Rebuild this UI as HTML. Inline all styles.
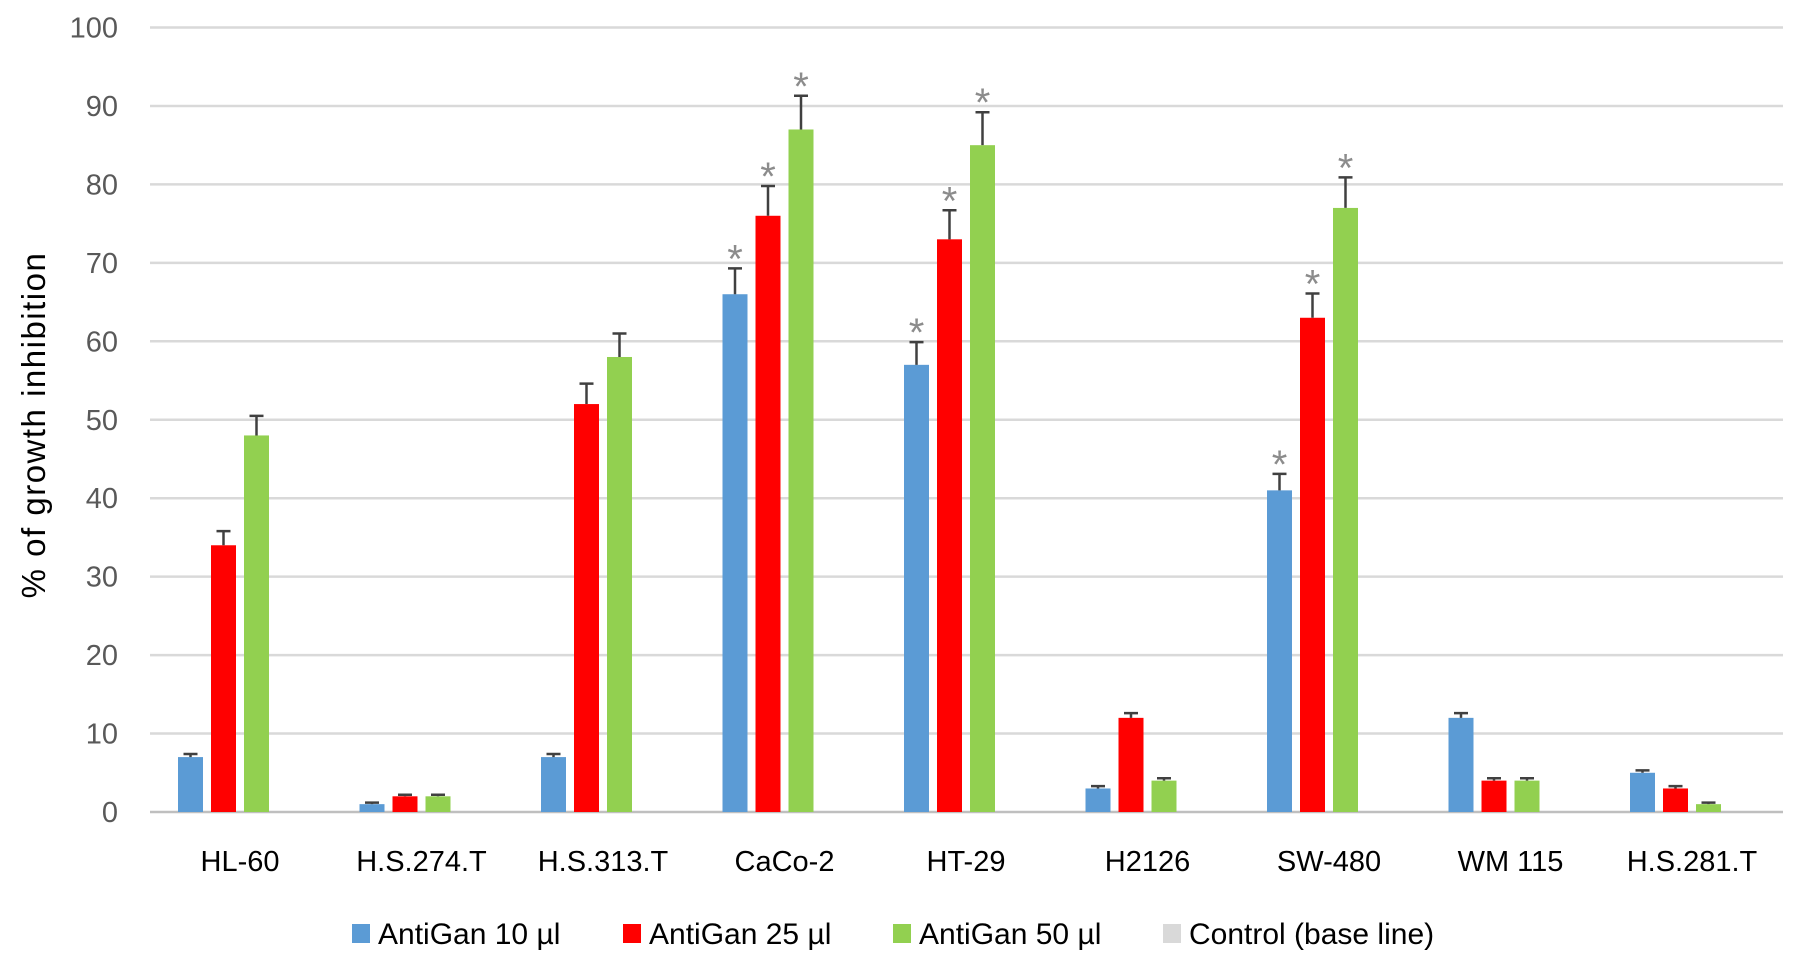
<!DOCTYPE html>
<html><head><meta charset="utf-8"><style>
body{margin:0;background:#fff;}
svg{display:block;font-family:"Liberation Sans",sans-serif;}
</style></head><body>
<svg id="chart" width="1795" height="971"></svg>
<script>
const categories=["HL-60","H.S.274.T","H.S.313.T","CaCo-2","HT-29","H2126","SW-480","WM 115","H.S.281.T"];
const s10=[7,1,7,66,57,3,41,12,5];
const s25=[34,2,52,76,73,12,63,4,3];
const s50=[48,2,58,87,85,4,77,4,1];
const e10=[0.4,0.2,0.4,3.3,2.9,0.3,2.1,0.6,0.3];
const e25=[1.8,0.2,2.6,3.8,3.7,0.6,3.1,0.3,0.3];
const e50=[2.5,0.2,3,4.3,4.2,0.3,3.9,0.3,0.2];
const sig10=[0,0,0,1,1,0,1,0,0];
const sig25=[0,0,0,1,1,0,1,0,0];
const sig50=[0,0,0,1,1,0,1,0,0];
const yTicks=[0,10,20,30,40,50,60,70,80,90,100];
const seriesNames=["AntiGan 10 µl","AntiGan 25 µl","AntiGan 50 µl","Control (base line)"];
const colors=["#5b9bd5","#ff0000","#92d050","#d9d9d9"];
const NS="http://www.w3.org/2000/svg";
const svg=document.getElementById('chart');
const y0=812,y100=27.5,xl=150,xr=1783;
const y=v=>y0-(y0-y100)*v/100;
const cx=i=>240+i*181.5;
function mk(t,a){const e=document.createElementNS(NS,t);for(const k in a)e.setAttribute(k,a[k]);svg.appendChild(e);return e;}
yTicks.forEach(t=>{
 const l=mk('line',{x1:xl,x2:xr,y1:y(t),y2:y(t),stroke:t===0?'#bfbfbf':'#d9d9d9','stroke-width':2.5});
 
 
 const tx=mk('text',{x:118,y:y(t)+10,'text-anchor':'end','font-size':29,fill:'#595959'});
 tx.textContent=t;
 
 
});
const yt=mk('text',{x:0,y:0,transform:'translate(45,425) rotate(-90)','text-anchor':'middle','font-size':33,'letter-spacing':1.5,fill:'#000'});
yt.textContent='% of growth inhibition';


const S=[s10,s25,s50],E=[e10,e25,e50],G=[sig10,sig25,sig50];
categories.forEach((c,i)=>{
 for(let s=0;s<3;s++){
  const v=S[s][i],bx=cx(i)+(s-1.5)*33;
  const r=mk('rect',{x:bx-12.5,y:y(v),width:25,height:y0-y(v),fill:colors[s]});
  
  
  const top=y(v+E[s][i]);
  const eb=mk('path',{d:`M${bx} ${y(v)}V${top}M${bx-7} ${top}H${bx+7}`,stroke:'#404040','stroke-width':2.5,fill:'none'});
  
  
  if(G[s][i]){
   const a=mk('text',{x:bx,y:top+4,'text-anchor':'middle','font-size':40,fill:'#8c8c8c'});
   a.textContent='*';
   
   
  }
 }
 const l=mk('text',{x:cx(i),y:871,'text-anchor':'middle','font-size':29,fill:'#000'});
 l.textContent=c;
 
 
});
const lx=[352,623,893,1163];
seriesNames.forEach((n,k)=>{
 const r=mk('rect',{x:lx[k],y:924,width:18,height:19,fill:colors[k]});
 
 
 const t=mk('text',{x:lx[k]+26,y:944,'font-size':30,fill:'#000'});
 t.textContent=n;
 
 
});
</script>
</body></html>
